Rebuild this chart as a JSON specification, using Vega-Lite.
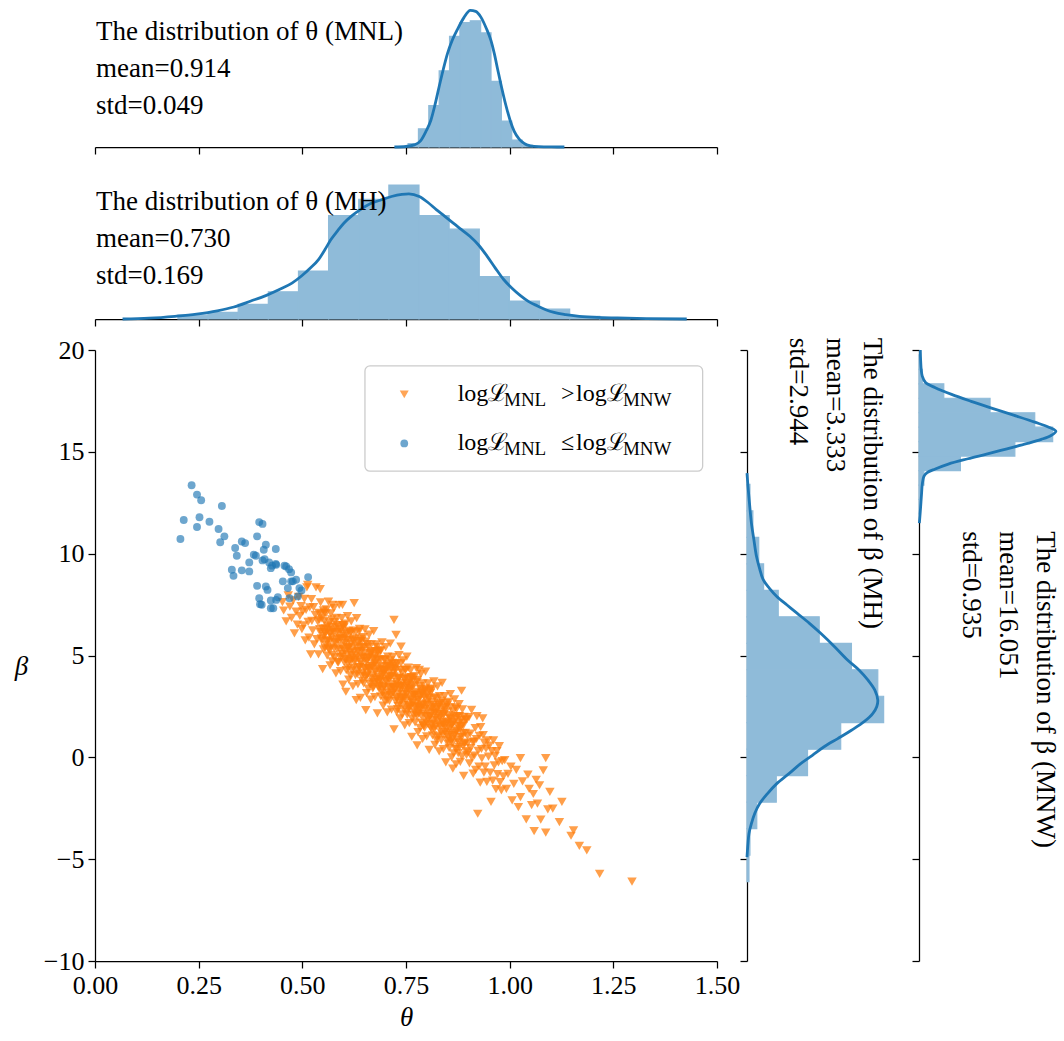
{
  "$schema": "https://vega.github.io/schema/vega-lite/v6.json",
  "background": "white",
  "padding": {"left": 13, "top": 4, "right": 2, "bottom": 2},
  "autosize": {"type": "pad"},
  "config": {
    "font": "Liberation Serif",
    "view": {"stroke": "transparent"},
    "axis": {
      "grid": false,
      "domainColor": "#000000",
      "domainWidth": 1.25,
      "tickColor": "#000000",
      "tickWidth": 1.25,
      "tickSize": 7,
      "labelFont": "Liberation Serif",
      "labelFontSize": 26,
      "labelColor": "#000000",
      "labelPadding": 4,
      "labelFlush": false,
      "labelOverlap": false,
      "titleFont": "Liberation Serif",
      "titleFontSize": 27,
      "titleFontWeight": "normal",
      "titleFontStyle": "italic",
      "titleColor": "#000000"
    },
    "rect": {"color": "#8fbbd9", "stroke": "#8fbbd9", "strokeWidth": 1.2},
    "text": {"font": "Liberation Serif", "color": "#000000"}
  },
  "datasets": {
    "theta_mnl_hist": [
      {"lo": 0.755, "hi": 0.780, "density": 0.2},
      {"lo": 0.780, "hi": 0.805, "density": 1.05},
      {"lo": 0.805, "hi": 0.830, "density": 2.4},
      {"lo": 0.830, "hi": 0.855, "density": 4.4},
      {"lo": 0.855, "hi": 0.880, "density": 6.4},
      {"lo": 0.880, "hi": 0.905, "density": 7.2},
      {"lo": 0.905, "hi": 0.930, "density": 7.3},
      {"lo": 0.930, "hi": 0.955, "density": 6.6},
      {"lo": 0.955, "hi": 0.980, "density": 3.8},
      {"lo": 0.980, "hi": 1.005, "density": 1.5},
      {"lo": 1.005, "hi": 1.030, "density": 0.4},
      {"lo": 1.030, "hi": 1.055, "density": 0.1}
    ],
    "theta_mnl_kde": [
      {"theta": 0.722, "density": 0}, {"theta": 0.75, "density": 0.03}, {"theta": 0.77, "density": 0.12},
      {"theta": 0.785, "density": 0.35}, {"theta": 0.798, "density": 0.9}, {"theta": 0.81, "density": 1.55},
      {"theta": 0.82, "density": 2.45}, {"theta": 0.83, "density": 3.5}, {"theta": 0.84, "density": 4.5},
      {"theta": 0.85, "density": 5.4}, {"theta": 0.862, "density": 6.2}, {"theta": 0.875, "density": 6.85},
      {"theta": 0.89, "density": 7.5}, {"theta": 0.905, "density": 7.91}, {"theta": 0.918, "density": 7.85},
      {"theta": 0.931, "density": 7.5}, {"theta": 0.943, "density": 6.9}, {"theta": 0.955, "density": 6.15},
      {"theta": 0.963, "density": 5.4}, {"theta": 0.971, "density": 4.5}, {"theta": 0.981, "density": 3.4},
      {"theta": 0.991, "density": 2.4}, {"theta": 1.001, "density": 1.55}, {"theta": 1.011, "density": 0.9},
      {"theta": 1.023, "density": 0.45}, {"theta": 1.035, "density": 0.2}, {"theta": 1.05, "density": 0.07},
      {"theta": 1.07, "density": 0.02}, {"theta": 1.1, "density": 0.004}, {"theta": 1.132, "density": 0}
    ],
    "theta_mh_hist": [
      {"lo": 0.2000, "hi": 0.2727, "density": 0.07},
      {"lo": 0.2727, "hi": 0.3453, "density": 0.12},
      {"lo": 0.3453, "hi": 0.4180, "density": 0.27},
      {"lo": 0.4180, "hi": 0.4907, "density": 0.50},
      {"lo": 0.4907, "hi": 0.5633, "density": 0.88},
      {"lo": 0.5633, "hi": 0.6360, "density": 1.90},
      {"lo": 0.6360, "hi": 0.7087, "density": 2.20},
      {"lo": 0.7087, "hi": 0.7813, "density": 2.46},
      {"lo": 0.7813, "hi": 0.8540, "density": 1.90},
      {"lo": 0.8540, "hi": 0.9267, "density": 1.65},
      {"lo": 0.9267, "hi": 0.9993, "density": 0.78},
      {"lo": 0.9993, "hi": 1.0720, "density": 0.33},
      {"lo": 1.0720, "hi": 1.1447, "density": 0.18},
      {"lo": 1.1447, "hi": 1.2173, "density": 0.05},
      {"lo": 1.2173, "hi": 1.2900, "density": 0.025}
    ],
    "theta_mh_kde": [
      {"theta": 0.0665, "density": 0}, {"theta": 0.13, "density": 0.015}, {"theta": 0.193, "density": 0.05},
      {"theta": 0.245, "density": 0.09}, {"theta": 0.295, "density": 0.15}, {"theta": 0.335, "density": 0.22},
      {"theta": 0.376, "density": 0.33}, {"theta": 0.412, "density": 0.43}, {"theta": 0.447, "density": 0.55},
      {"theta": 0.475, "density": 0.66}, {"theta": 0.498, "density": 0.79}, {"theta": 0.52, "density": 0.94},
      {"theta": 0.539, "density": 1.09}, {"theta": 0.555, "density": 1.28}, {"theta": 0.569, "density": 1.46},
      {"theta": 0.585, "density": 1.62}, {"theta": 0.6, "density": 1.76}, {"theta": 0.62, "density": 1.9},
      {"theta": 0.64, "density": 2.01}, {"theta": 0.665, "density": 2.12}, {"theta": 0.691, "density": 2.19},
      {"theta": 0.715, "density": 2.25}, {"theta": 0.74, "density": 2.29}, {"theta": 0.757, "density": 2.3},
      {"theta": 0.782, "density": 2.25}, {"theta": 0.803, "density": 2.14}, {"theta": 0.823, "density": 2.01},
      {"theta": 0.843, "density": 1.89}, {"theta": 0.864, "density": 1.76}, {"theta": 0.884, "density": 1.64},
      {"theta": 0.904, "density": 1.52}, {"theta": 0.925, "density": 1.36}, {"theta": 0.945, "density": 1.16},
      {"theta": 0.965, "density": 0.94}, {"theta": 0.985, "density": 0.73}, {"theta": 1.005, "density": 0.57},
      {"theta": 1.026, "density": 0.43}, {"theta": 1.046, "density": 0.32}, {"theta": 1.067, "density": 0.24},
      {"theta": 1.087, "density": 0.17}, {"theta": 1.107, "density": 0.12}, {"theta": 1.135, "density": 0.08},
      {"theta": 1.168, "density": 0.05}, {"theta": 1.21, "density": 0.03}, {"theta": 1.26, "density": 0.02},
      {"theta": 1.33, "density": 0.008}, {"theta": 1.427, "density": 0}
    ],
    "beta_mh_hist": [
      {"lo": -6.1, "hi": -4.8, "density": 0.002},
      {"lo": -4.8, "hi": -3.5, "density": 0.003},
      {"lo": -3.5, "hi": -2.2, "density": 0.010},
      {"lo": -2.2, "hi": -0.9, "density": 0.030},
      {"lo": -0.9, "hi": 0.4, "density": 0.062},
      {"lo": 0.4, "hi": 1.7, "density": 0.096},
      {"lo": 1.7, "hi": 3.0, "density": 0.140},
      {"lo": 3.0, "hi": 4.3, "density": 0.134},
      {"lo": 4.3, "hi": 5.6, "density": 0.107},
      {"lo": 5.6, "hi": 6.9, "density": 0.074},
      {"lo": 6.9, "hi": 8.2, "density": 0.032},
      {"lo": 8.2, "hi": 9.5, "density": 0.017},
      {"lo": 9.5, "hi": 10.8, "density": 0.012},
      {"lo": 10.8, "hi": 12.1, "density": 0.006},
      {"lo": 12.1, "hi": 13.4, "density": 0.003}
    ],
    "beta_mh_kde": [
      {"beta": 13.95, "density": 0}, {"beta": 13.31, "density": 0.001}, {"beta": 12.5, "density": 0.0025},
      {"beta": 11.51, "density": 0.0045}, {"beta": 10.7, "density": 0.007}, {"beta": 9.87, "density": 0.0097},
      {"beta": 9.25, "density": 0.013}, {"beta": 8.72, "density": 0.0166}, {"beta": 8.3, "density": 0.023},
      {"beta": 7.9, "density": 0.0305}, {"beta": 7.48, "density": 0.041}, {"beta": 7.08, "density": 0.0512},
      {"beta": 6.58, "density": 0.064}, {"beta": 6.09, "density": 0.0755}, {"beta": 5.42, "density": 0.09},
      {"beta": 4.78, "density": 0.103}, {"beta": 4.28, "density": 0.115}, {"beta": 3.79, "density": 0.124},
      {"beta": 3.3, "density": 0.131}, {"beta": 2.81, "density": 0.134}, {"beta": 2.5, "density": 0.133},
      {"beta": 2.16, "density": 0.129}, {"beta": 1.75, "density": 0.12}, {"beta": 1.33, "density": 0.107},
      {"beta": 0.92, "density": 0.093}, {"beta": 0.52, "density": 0.079}, {"beta": 0.1, "density": 0.067},
      {"beta": -0.31, "density": 0.055}, {"beta": -0.8, "density": 0.043}, {"beta": -1.29, "density": 0.0305},
      {"beta": -1.78, "density": 0.021}, {"beta": -2.27, "density": 0.013}, {"beta": -2.75, "density": 0.008},
      {"beta": -3.26, "density": 0.0045}, {"beta": -3.75, "density": 0.002}, {"beta": -4.24, "density": 0.001},
      {"beta": -4.9, "density": 0}
    ],
    "beta_mnw_hist": [
      {"lo": 11.95, "hi": 12.66, "density": 0.002},
      {"lo": 12.66, "hi": 13.37, "density": 0.005},
      {"lo": 13.37, "hi": 14.08, "density": 0.015},
      {"lo": 14.08, "hi": 14.79, "density": 0.127},
      {"lo": 14.79, "hi": 15.50, "density": 0.294},
      {"lo": 15.50, "hi": 16.21, "density": 0.41},
      {"lo": 16.21, "hi": 16.92, "density": 0.355},
      {"lo": 16.92, "hi": 17.63, "density": 0.218},
      {"lo": 17.63, "hi": 18.34, "density": 0.076},
      {"lo": 18.34, "hi": 19.05, "density": 0.01},
      {"lo": 19.05, "hi": 19.76, "density": 0.004}
    ],
    "beta_mnw_kde": [
      {"beta": 20.0, "density": 0.004}, {"beta": 19.5, "density": 0.005}, {"beta": 19.0, "density": 0.007},
      {"beta": 18.72, "density": 0.01}, {"beta": 18.4, "density": 0.02}, {"beta": 18.15, "density": 0.05},
      {"beta": 17.82, "density": 0.1}, {"beta": 17.48, "density": 0.16}, {"beta": 17.16, "density": 0.22},
      {"beta": 16.8, "density": 0.29}, {"beta": 16.46, "density": 0.355}, {"beta": 16.2, "density": 0.4},
      {"beta": 16.01, "density": 0.42}, {"beta": 15.8, "density": 0.405}, {"beta": 15.61, "density": 0.375},
      {"beta": 15.4, "density": 0.33}, {"beta": 15.15, "density": 0.27}, {"beta": 14.9, "density": 0.21},
      {"beta": 14.66, "density": 0.15}, {"beta": 14.4, "density": 0.09}, {"beta": 14.16, "density": 0.05},
      {"beta": 13.98, "density": 0.025}, {"beta": 13.8, "density": 0.015}, {"beta": 13.4, "density": 0.01},
      {"beta": 12.98, "density": 0.008}, {"beta": 12.3, "density": 0.005}, {"beta": 11.67, "density": 0.002},
      {"beta": 11.5, "density": 0.001}
    ],
    "samples": [
      {"theta":0.452,"beta":7.62,"best":"MNL"},{"theta":0.455,"beta":7.21,"best":"MNL"},{"theta":0.461,"beta":6.68,"best":"MNL"},{"theta":0.466,"beta":7.95,"best":"MNL"},{"theta":0.470,"beta":7.40,"best":"MNL"},{"theta":0.474,"beta":6.85,"best":"MNL"},{"theta":0.478,"beta":7.71,"best":"MNL"},{"theta":0.481,"beta":6.09,"best":"MNL"},{"theta":0.485,"beta":7.15,"best":"MNL"},{"theta":0.488,"beta":6.52,"best":"MNL"},{"theta":0.491,"beta":7.88,"best":"MNL"},{"theta":0.494,"beta":6.95,"best":"MNL"},{"theta":0.497,"beta":7.42,"best":"MNL"},{"theta":0.499,"beta":6.30,"best":"MNL"},
      {"theta":0.501,"beta":7.15,"best":"MNL"},{"theta":0.503,"beta":6.48,"best":"MNL"},{"theta":0.505,"beta":7.78,"best":"MNL"},{"theta":0.507,"beta":5.74,"best":"MNL"},{"theta":0.509,"beta":7.24,"best":"MNL"},{"theta":0.511,"beta":8.35,"best":"MNL"},{"theta":0.513,"beta":8.47,"best":"MNL"},{"theta":0.514,"beta":6.65,"best":"MNL"},{"theta":0.516,"beta":5.88,"best":"MNL"},{"theta":0.518,"beta":7.36,"best":"MNL"},{"theta":0.520,"beta":5.06,"best":"MNL"},{"theta":0.522,"beta":7.77,"best":"MNL"},{"theta":0.523,"beta":6.70,"best":"MNL"},{"theta":0.525,"beta":6.23,"best":"MNL"},{"theta":0.527,"beta":7.38,"best":"MNL"},{"theta":0.529,"beta":5.55,"best":"MNL"},{"theta":0.531,"beta":7.00,"best":"MNL"},{"theta":0.533,"beta":8.34,"best":"MNL"},{"theta":0.535,"beta":5.80,"best":"MNL"},{"theta":0.537,"beta":6.68,"best":"MNL"},{"theta":0.539,"beta":5.05,"best":"MNL"},{"theta":0.540,"beta":7.09,"best":"MNL"},{"theta":0.542,"beta":6.29,"best":"MNL"},{"theta":0.543,"beta":8.26,"best":"MNL"},{"theta":0.544,"beta":7.61,"best":"MNL"},{"theta":0.546,"beta":5.84,"best":"MNL"},{"theta":0.547,"beta":6.82,"best":"MNL"},{"theta":0.549,"beta":4.33,"best":"MNL"},
      {"theta":0.551,"beta":7.22,"best":"MNL"},{"theta":0.552,"beta":5.96,"best":"MNL"},{"theta":0.553,"beta":7.10,"best":"MNL"},{"theta":0.555,"beta":5.37,"best":"MNL"},{"theta":0.556,"beta":6.32,"best":"MNL"},{"theta":0.557,"beta":5.53,"best":"MNL"},{"theta":0.558,"beta":7.27,"best":"MNL"},{"theta":0.560,"beta":4.99,"best":"MNL"},{"theta":0.561,"beta":6.47,"best":"MNL"},{"theta":0.562,"beta":5.75,"best":"MNL"},{"theta":0.563,"beta":7.64,"best":"MNL"},{"theta":0.565,"beta":5.29,"best":"MNL"},{"theta":0.566,"beta":6.07,"best":"MNL"},{"theta":0.567,"beta":4.51,"best":"MNL"},{"theta":0.568,"beta":6.10,"best":"MNL"},{"theta":0.570,"beta":5.40,"best":"MNL"},{"theta":0.571,"beta":6.77,"best":"MNL"},{"theta":0.572,"beta":4.71,"best":"MNL"},{"theta":0.573,"beta":7.49,"best":"MNL"},{"theta":0.574,"beta":6.23,"best":"MNL"},{"theta":0.576,"beta":7.33,"best":"MNL"},{"theta":0.577,"beta":5.66,"best":"MNL"},{"theta":0.578,"beta":4.91,"best":"MNL"},{"theta":0.579,"beta":6.42,"best":"MNL"},{"theta":0.581,"beta":4.12,"best":"MNL"},{"theta":0.582,"beta":6.85,"best":"MNL"},{"theta":0.583,"beta":5.78,"best":"MNL"},{"theta":0.584,"beta":5.33,"best":"MNL"},{"theta":0.585,"beta":6.49,"best":"MNL"},{"theta":0.587,"beta":4.66,"best":"MNL"},{"theta":0.588,"beta":6.13,"best":"MNL"},{"theta":0.589,"beta":7.48,"best":"MNL"},{"theta":0.590,"beta":4.95,"best":"MNL"},{"theta":0.591,"beta":5.85,"best":"MNL"},{"theta":0.592,"beta":4.23,"best":"MNL"},{"theta":0.593,"beta":6.28,"best":"MNL"},{"theta":0.594,"beta":5.49,"best":"MNL"},{"theta":0.595,"beta":6.83,"best":"MNL"},{"theta":0.596,"beta":5.07,"best":"MNL"},{"theta":0.597,"beta":7.49,"best":"MNL"},{"theta":0.597,"beta":6.05,"best":"MNL"},{"theta":0.598,"beta":3.57,"best":"MNL"},{"theta":0.599,"beta":6.48,"best":"MNL"},{"theta":0.554,"beta":6.15,"best":"MNL"},{"theta":0.569,"beta":6.39,"best":"MNL"},
      {"theta":0.600,"beta":6.38,"best":"MNL"},{"theta":0.601,"beta":4.66,"best":"MNL"},{"theta":0.602,"beta":5.61,"best":"MNL"},{"theta":0.603,"beta":4.82,"best":"MNL"},{"theta":0.604,"beta":6.56,"best":"MNL"},{"theta":0.605,"beta":3.22,"best":"MNL"},{"theta":0.606,"beta":4.28,"best":"MNL"},{"theta":0.607,"beta":5.76,"best":"MNL"},{"theta":0.608,"beta":5.04,"best":"MNL"},{"theta":0.609,"beta":6.93,"best":"MNL"},{"theta":0.610,"beta":4.60,"best":"MNL"},{"theta":0.611,"beta":5.38,"best":"MNL"},{"theta":0.612,"beta":3.82,"best":"MNL"},{"theta":0.613,"beta":5.41,"best":"MNL"},{"theta":0.614,"beta":4.72,"best":"MNL"},{"theta":0.615,"beta":6.09,"best":"MNL"},{"theta":0.616,"beta":4.03,"best":"MNL"},{"theta":0.617,"beta":5.57,"best":"MNL"},{"theta":0.618,"beta":6.68,"best":"MNL"},{"theta":0.619,"beta":5.02,"best":"MNL"},{"theta":0.620,"beta":4.26,"best":"MNL"},{"theta":0.621,"beta":5.78,"best":"MNL"},{"theta":0.622,"beta":3.49,"best":"MNL"},{"theta":0.623,"beta":6.22,"best":"MNL"},{"theta":0.624,"beta":5.15,"best":"MNL"},{"theta":0.625,"beta":7.57,"best":"MNL"},{"theta":0.626,"beta":4.68,"best":"MNL"},{"theta":0.627,"beta":5.84,"best":"MNL"},{"theta":0.628,"beta":4.03,"best":"MNL"},{"theta":0.629,"beta":5.49,"best":"MNL"},{"theta":0.630,"beta":2.81,"best":"MNL"},{"theta":0.631,"beta":6.83,"best":"MNL"},{"theta":0.632,"beta":4.31,"best":"MNL"},{"theta":0.633,"beta":5.20,"best":"MNL"},{"theta":0.634,"beta":3.59,"best":"MNL"},{"theta":0.635,"beta":5.63,"best":"MNL"},{"theta":0.636,"beta":4.85,"best":"MNL"},{"theta":0.637,"beta":6.18,"best":"MNL"},{"theta":0.638,"beta":4.43,"best":"MNL"},{"theta":0.639,"beta":5.40,"best":"MNL"},{"theta":0.640,"beta":2.92,"best":"MNL"},{"theta":0.641,"beta":5.83,"best":"MNL"},{"theta":0.642,"beta":4.57,"best":"MNL"},{"theta":0.643,"beta":5.72,"best":"MNL"},{"theta":0.644,"beta":4.00,"best":"MNL"},{"theta":0.645,"beta":4.95,"best":"MNL"},{"theta":0.646,"beta":4.16,"best":"MNL"},{"theta":0.647,"beta":5.90,"best":"MNL"},{"theta":0.648,"beta":3.63,"best":"MNL"},{"theta":0.649,"beta":5.12,"best":"MNL"},{"theta":0.603,"beta":5.96,"best":"MNL"},{"theta":0.612,"beta":6.21,"best":"MNL"},{"theta":0.621,"beta":4.87,"best":"MNL"},{"theta":0.638,"beta":6.31,"best":"MNL"},{"theta":0.645,"beta":5.40,"best":"MNL"},
      {"theta":0.650,"beta":4.39,"best":"MNL"},{"theta":0.651,"beta":6.28,"best":"MNL"},{"theta":0.652,"beta":3.95,"best":"MNL"},{"theta":0.653,"beta":2.32,"best":"MNL"},{"theta":0.654,"beta":4.72,"best":"MNL"},{"theta":0.655,"beta":3.15,"best":"MNL"},{"theta":0.656,"beta":4.75,"best":"MNL"},{"theta":0.657,"beta":4.06,"best":"MNL"},{"theta":0.658,"beta":5.43,"best":"MNL"},{"theta":0.659,"beta":3.37,"best":"MNL"},{"theta":0.660,"beta":4.91,"best":"MNL"},{"theta":0.661,"beta":6.02,"best":"MNL"},{"theta":0.662,"beta":4.36,"best":"MNL"},{"theta":0.663,"beta":3.60,"best":"MNL"},{"theta":0.664,"beta":5.12,"best":"MNL"},{"theta":0.665,"beta":2.83,"best":"MNL"},{"theta":0.666,"beta":5.55,"best":"MNL"},{"theta":0.667,"beta":4.49,"best":"MNL"},{"theta":0.668,"beta":4.03,"best":"MNL"},{"theta":0.669,"beta":5.20,"best":"MNL"},{"theta":0.670,"beta":3.38,"best":"MNL"},{"theta":0.671,"beta":4.85,"best":"MNL"},{"theta":0.672,"beta":6.20,"best":"MNL"},{"theta":0.673,"beta":3.68,"best":"MNL"},{"theta":0.674,"beta":4.57,"best":"MNL"},{"theta":0.675,"beta":2.96,"best":"MNL"},{"theta":0.676,"beta":5.00,"best":"MNL"},{"theta":0.677,"beta":4.21,"best":"MNL"},{"theta":0.678,"beta":5.55,"best":"MNL"},{"theta":0.679,"beta":3.79,"best":"MNL"},{"theta":0.680,"beta":4.77,"best":"MNL"},{"theta":0.681,"beta":2.16,"best":"MNL"},{"theta":0.682,"beta":5.20,"best":"MNL"},{"theta":0.683,"beta":3.94,"best":"MNL"},{"theta":0.684,"beta":5.09,"best":"MNL"},{"theta":0.685,"beta":3.37,"best":"MNL"},{"theta":0.686,"beta":4.32,"best":"MNL"},{"theta":0.687,"beta":3.53,"best":"MNL"},{"theta":0.688,"beta":5.27,"best":"MNL"},{"theta":0.689,"beta":3.00,"best":"MNL"},{"theta":0.690,"beta":4.48,"best":"MNL"},{"theta":0.691,"beta":3.76,"best":"MNL"},{"theta":0.692,"beta":5.65,"best":"MNL"},{"theta":0.693,"beta":3.32,"best":"MNL"},{"theta":0.694,"beta":4.10,"best":"MNL"},{"theta":0.695,"beta":2.54,"best":"MNL"},{"theta":0.696,"beta":4.13,"best":"MNL"},{"theta":0.697,"beta":3.45,"best":"MNL"},{"theta":0.698,"beta":4.81,"best":"MNL"},{"theta":0.699,"beta":2.76,"best":"MNL"},{"theta":0.6525,"beta":5.68,"best":"MNL"},{"theta":0.6575,"beta":4.40,"best":"MNL"},{"theta":0.6635,"beta":5.06,"best":"MNL"},{"theta":0.6685,"beta":3.68,"best":"MNL"},{"theta":0.6745,"beta":4.64,"best":"MNL"},{"theta":0.6795,"beta":5.41,"best":"MNL"},{"theta":0.6845,"beta":3.69,"best":"MNL"},{"theta":0.6895,"beta":4.81,"best":"MNL"},{"theta":0.6935,"beta":4.30,"best":"MNL"},{"theta":0.6975,"beta":3.04,"best":"MNL"},
      {"theta":0.700,"beta":4.29,"best":"MNL"},{"theta":0.701,"beta":5.41,"best":"MNL"},{"theta":0.702,"beta":3.74,"best":"MNL"},{"theta":0.703,"beta":2.99,"best":"MNL"},{"theta":0.704,"beta":4.50,"best":"MNL"},{"theta":0.705,"beta":2.21,"best":"MNL"},{"theta":0.706,"beta":4.94,"best":"MNL"},{"theta":0.707,"beta":3.87,"best":"MNL"},{"theta":0.708,"beta":3.42,"best":"MNL"},{"theta":0.709,"beta":4.58,"best":"MNL"},{"theta":0.710,"beta":2.77,"best":"MNL"},{"theta":0.711,"beta":4.23,"best":"MNL"},{"theta":0.712,"beta":5.59,"best":"MNL"},{"theta":0.713,"beta":3.06,"best":"MNL"},{"theta":0.714,"beta":3.96,"best":"MNL"},{"theta":0.715,"beta":2.34,"best":"MNL"},{"theta":0.716,"beta":4.38,"best":"MNL"},{"theta":0.717,"beta":3.60,"best":"MNL"},{"theta":0.718,"beta":4.93,"best":"MNL"},{"theta":0.719,"beta":3.18,"best":"MNL"},{"theta":0.720,"beta":4.15,"best":"MNL"},{"theta":0.721,"beta":6.75,"best":"MNL"},{"theta":0.721,"beta":1.37,"best":"MNL"},{"theta":0.722,"beta":4.58,"best":"MNL"},{"theta":0.723,"beta":3.33,"best":"MNL"},{"theta":0.724,"beta":4.47,"best":"MNL"},{"theta":0.725,"beta":2.76,"best":"MNL"},{"theta":0.726,"beta":6.01,"best":"MNL"},{"theta":0.727,"beta":3.69,"best":"MNL"},{"theta":0.728,"beta":2.90,"best":"MNL"},{"theta":0.729,"beta":4.63,"best":"MNL"},{"theta":0.730,"beta":2.37,"best":"MNL"},{"theta":0.731,"beta":3.85,"best":"MNL"},{"theta":0.732,"beta":3.13,"best":"MNL"},{"theta":0.733,"beta":5.02,"best":"MNL"},{"theta":0.734,"beta":2.69,"best":"MNL"},{"theta":0.735,"beta":3.47,"best":"MNL"},{"theta":0.736,"beta":1.91,"best":"MNL"},{"theta":0.737,"beta":3.50,"best":"MNL"},{"theta":0.738,"beta":5.44,"best":"MNL"},{"theta":0.739,"beta":2.80,"best":"MNL"},{"theta":0.740,"beta":4.16,"best":"MNL"},{"theta":0.741,"beta":2.11,"best":"MNL"},{"theta":0.742,"beta":3.64,"best":"MNL"},{"theta":0.743,"beta":4.76,"best":"MNL"},{"theta":0.744,"beta":3.09,"best":"MNL"},{"theta":0.745,"beta":2.34,"best":"MNL"},{"theta":0.746,"beta":3.85,"best":"MNL"},{"theta":0.747,"beta":1.57,"best":"MNL"},{"theta":0.748,"beta":4.29,"best":"MNL"},{"theta":0.749,"beta":3.23,"best":"MNL"},{"theta":0.7025,"beta":4.46,"best":"MNL"},{"theta":0.7075,"beta":3.18,"best":"MNL"},{"theta":0.7125,"beta":4.76,"best":"MNL"},{"theta":0.7175,"beta":3.43,"best":"MNL"},{"theta":0.7225,"beta":4.35,"best":"MNL"},{"theta":0.7275,"beta":2.23,"best":"MNL"},{"theta":0.7325,"beta":3.90,"best":"MNL"},{"theta":0.7375,"beta":4.62,"best":"MNL"},{"theta":0.7425,"beta":2.90,"best":"MNL"},{"theta":0.7475,"beta":3.42,"best":"MNL"},{"theta":0.7085,"beta":3.82,"best":"MNL"},
      {"theta":0.750,"beta":2.77,"best":"MNL"},{"theta":0.751,"beta":3.93,"best":"MNL"},{"theta":0.752,"beta":4.95,"best":"MNL"},{"theta":0.753,"beta":2.10,"best":"MNL"},{"theta":0.754,"beta":3.57,"best":"MNL"},{"theta":0.755,"beta":4.40,"best":"MNL"},{"theta":0.756,"beta":2.40,"best":"MNL"},{"theta":0.757,"beta":3.29,"best":"MNL"},{"theta":0.758,"beta":1.68,"best":"MNL"},{"theta":0.759,"beta":3.72,"best":"MNL"},{"theta":0.760,"beta":2.94,"best":"MNL"},{"theta":0.761,"beta":4.27,"best":"MNL"},{"theta":0.762,"beta":2.51,"best":"MNL"},{"theta":0.763,"beta":3.49,"best":"MNL"},{"theta":0.764,"beta":1.01,"best":"MNL"},{"theta":0.765,"beta":3.92,"best":"MNL"},{"theta":0.766,"beta":2.66,"best":"MNL"},{"theta":0.767,"beta":3.81,"best":"MNL"},{"theta":0.768,"beta":2.09,"best":"MNL"},{"theta":0.769,"beta":3.04,"best":"MNL"},{"theta":0.770,"beta":2.25,"best":"MNL"},{"theta":0.771,"beta":3.99,"best":"MNL"},{"theta":0.772,"beta":1.72,"best":"MNL"},{"theta":0.773,"beta":3.21,"best":"MNL"},{"theta":0.774,"beta":2.48,"best":"MNL"},{"theta":0.775,"beta":4.38,"best":"MNL"},{"theta":0.776,"beta":2.04,"best":"MNL"},{"theta":0.777,"beta":0.59,"best":"MNL"},{"theta":0.778,"beta":2.81,"best":"MNL"},{"theta":0.779,"beta":1.24,"best":"MNL"},{"theta":0.780,"beta":2.84,"best":"MNL"},{"theta":0.781,"beta":2.15,"best":"MNL"},{"theta":0.782,"beta":4.29,"best":"MNL"},{"theta":0.783,"beta":3.50,"best":"MNL"},{"theta":0.784,"beta":1.45,"best":"MNL"},{"theta":0.785,"beta":2.98,"best":"MNL"},{"theta":0.786,"beta":4.10,"best":"MNL"},{"theta":0.787,"beta":2.43,"best":"MNL"},{"theta":0.788,"beta":1.68,"best":"MNL"},{"theta":0.789,"beta":3.19,"best":"MNL"},{"theta":0.790,"beta":0.90,"best":"MNL"},{"theta":0.791,"beta":3.63,"best":"MNL"},{"theta":0.792,"beta":2.56,"best":"MNL"},{"theta":0.793,"beta":2.11,"best":"MNL"},{"theta":0.794,"beta":3.27,"best":"MNL"},{"theta":0.795,"beta":1.46,"best":"MNL"},{"theta":0.796,"beta":2.92,"best":"MNL"},{"theta":0.797,"beta":4.21,"best":"MNL"},{"theta":0.798,"beta":1.75,"best":"MNL"},{"theta":0.799,"beta":2.65,"best":"MNL"},{"theta":0.7525,"beta":3.64,"best":"MNL"},{"theta":0.7575,"beta":2.46,"best":"MNL"},{"theta":0.7625,"beta":3.94,"best":"MNL"},{"theta":0.7675,"beta":2.71,"best":"MNL"},{"theta":0.7725,"beta":3.13,"best":"MNL"},{"theta":0.7775,"beta":3.81,"best":"MNL"},{"theta":0.7825,"beta":2.33,"best":"MNL"},{"theta":0.7875,"beta":3.15,"best":"MNL"},{"theta":0.7925,"beta":1.53,"best":"MNL"},{"theta":0.7975,"beta":3.30,"best":"MNL"},
      {"theta":0.800,"beta":1.03,"best":"MNL"},{"theta":0.801,"beta":3.08,"best":"MNL"},{"theta":0.802,"beta":2.29,"best":"MNL"},{"theta":0.803,"beta":3.63,"best":"MNL"},{"theta":0.804,"beta":1.87,"best":"MNL"},{"theta":0.805,"beta":2.84,"best":"MNL"},{"theta":0.806,"beta":0.37,"best":"MNL"},{"theta":0.807,"beta":3.27,"best":"MNL"},{"theta":0.808,"beta":2.02,"best":"MNL"},{"theta":0.809,"beta":3.16,"best":"MNL"},{"theta":0.810,"beta":1.45,"best":"MNL"},{"theta":0.811,"beta":2.39,"best":"MNL"},{"theta":0.812,"beta":1.61,"best":"MNL"},{"theta":0.813,"beta":3.34,"best":"MNL"},{"theta":0.814,"beta":1.08,"best":"MNL"},{"theta":0.815,"beta":2.56,"best":"MNL"},{"theta":0.816,"beta":1.83,"best":"MNL"},{"theta":0.817,"beta":3.73,"best":"MNL"},{"theta":0.818,"beta":1.39,"best":"MNL"},{"theta":0.819,"beta":2.18,"best":"MNL"},{"theta":0.820,"beta":0.61,"best":"MNL"},{"theta":0.821,"beta":2.21,"best":"MNL"},{"theta":0.822,"beta":1.52,"best":"MNL"},{"theta":0.823,"beta":2.89,"best":"MNL"},{"theta":0.824,"beta":0.83,"best":"MNL"},{"theta":0.825,"beta":2.37,"best":"MNL"},{"theta":0.826,"beta":3.48,"best":"MNL"},{"theta":0.827,"beta":1.81,"best":"MNL"},{"theta":0.828,"beta":1.06,"best":"MNL"},{"theta":0.829,"beta":2.57,"best":"MNL"},{"theta":0.830,"beta":0.29,"best":"MNL"},{"theta":0.831,"beta":3.01,"best":"MNL"},{"theta":0.832,"beta":1.95,"best":"MNL"},{"theta":0.833,"beta":1.49,"best":"MNL"},{"theta":0.834,"beta":2.66,"best":"MNL"},{"theta":0.835,"beta":0.84,"best":"MNL"},{"theta":0.836,"beta":2.31,"best":"MNL"},{"theta":0.837,"beta":3.66,"best":"MNL"},{"theta":0.838,"beta":1.13,"best":"MNL"},{"theta":0.839,"beta":2.03,"best":"MNL"},{"theta":0.840,"beta":0.41,"best":"MNL"},{"theta":0.841,"beta":2.46,"best":"MNL"},{"theta":0.842,"beta":1.67,"best":"MNL"},{"theta":0.843,"beta":3.01,"best":"MNL"},{"theta":0.844,"beta":1.25,"best":"MNL"},{"theta":0.845,"beta":2.23,"best":"MNL"},{"theta":0.846,"beta":-0.25,"best":"MNL"},{"theta":0.847,"beta":2.66,"best":"MNL"},{"theta":0.848,"beta":1.40,"best":"MNL"},{"theta":0.849,"beta":2.55,"best":"MNL"},{"theta":0.8125,"beta":2.72,"best":"MNL"},{"theta":0.8375,"beta":1.73,"best":"MNL"},
      {"theta":0.850,"beta":0.83,"best":"MNL"},{"theta":0.851,"beta":1.77,"best":"MNL"},{"theta":0.852,"beta":0.99,"best":"MNL"},{"theta":0.853,"beta":2.72,"best":"MNL"},{"theta":0.854,"beta":0.46,"best":"MNL"},{"theta":0.855,"beta":1.94,"best":"MNL"},{"theta":0.856,"beta":1.22,"best":"MNL"},{"theta":0.857,"beta":3.11,"best":"MNL"},{"theta":0.858,"beta":0.78,"best":"MNL"},{"theta":0.859,"beta":1.56,"best":"MNL"},{"theta":0.860,"beta":0.00,"best":"MNL"},{"theta":0.861,"beta":1.59,"best":"MNL"},{"theta":0.862,"beta":0.91,"best":"MNL"},{"theta":0.863,"beta":-0.55,"best":"MNL"},{"theta":0.864,"beta":2.26,"best":"MNL"},{"theta":0.865,"beta":0.20,"best":"MNL"},{"theta":0.866,"beta":1.73,"best":"MNL"},{"theta":0.867,"beta":2.85,"best":"MNL"},{"theta":0.868,"beta":1.18,"best":"MNL"},{"theta":0.869,"beta":0.43,"best":"MNL"},{"theta":0.870,"beta":1.94,"best":"MNL"},{"theta":0.871,"beta":-0.34,"best":"MNL"},{"theta":0.872,"beta":2.38,"best":"MNL"},{"theta":0.873,"beta":1.32,"best":"MNL"},{"theta":0.874,"beta":0.86,"best":"MNL"},{"theta":0.875,"beta":2.03,"best":"MNL"},{"theta":0.876,"beta":0.21,"best":"MNL"},{"theta":0.877,"beta":1.67,"best":"MNL"},{"theta":0.878,"beta":2.61,"best":"MNL"},{"theta":0.879,"beta":0.50,"best":"MNL"},{"theta":0.880,"beta":1.40,"best":"MNL"},{"theta":0.881,"beta":-0.22,"best":"MNL"},{"theta":0.882,"beta":1.83,"best":"MNL"},{"theta":0.884,"beta":3.27,"best":"MNL"},{"theta":0.885,"beta":1.01,"best":"MNL"},{"theta":0.886,"beta":2.35,"best":"MNL"},{"theta":0.887,"beta":0.59,"best":"MNL"},{"theta":0.888,"beta":1.56,"best":"MNL"},{"theta":0.889,"beta":-0.91,"best":"MNL"},{"theta":0.890,"beta":1.99,"best":"MNL"},{"theta":0.892,"beta":0.72,"best":"MNL"},{"theta":0.894,"beta":1.85,"best":"MNL"},{"theta":0.896,"beta":0.12,"best":"MNL"},{"theta":0.898,"beta":1.05,"best":"MNL"},{"theta":0.8575,"beta":1.88,"best":"MNL"},
      {"theta":0.900,"beta":0.25,"best":"MNL"},{"theta":0.902,"beta":1.97,"best":"MNL"},{"theta":0.903,"beta":-0.30,"best":"MNL"},{"theta":0.905,"beta":1.17,"best":"MNL"},{"theta":0.906,"beta":0.45,"best":"MNL"},{"theta":0.908,"beta":2.33,"best":"MNL"},{"theta":0.909,"beta":-0.01,"best":"MNL"},{"theta":0.911,"beta":0.76,"best":"MNL"},{"theta":0.912,"beta":-0.80,"best":"MNL"},{"theta":0.914,"beta":0.77,"best":"MNL"},{"theta":0.915,"beta":0.09,"best":"MNL"},{"theta":0.917,"beta":1.44,"best":"MNL"},{"theta":0.918,"beta":-0.62,"best":"MNL"},{"theta":0.920,"beta":0.90,"best":"MNL"},{"theta":0.921,"beta":2.02,"best":"MNL"},{"theta":0.923,"beta":-2.77,"best":"MNL"},{"theta":0.924,"beta":0.32,"best":"MNL"},{"theta":0.926,"beta":-0.45,"best":"MNL"},{"theta":0.927,"beta":1.06,"best":"MNL"},{"theta":0.929,"beta":-1.24,"best":"MNL"},{"theta":0.930,"beta":1.49,"best":"MNL"},{"theta":0.932,"beta":0.41,"best":"MNL"},{"theta":0.933,"beta":-0.05,"best":"MNL"},{"theta":0.935,"beta":1.91,"best":"MNL"},{"theta":0.936,"beta":1.09,"best":"MNL"},{"theta":0.938,"beta":-0.75,"best":"MNL"},{"theta":0.939,"beta":0.72,"best":"MNL"},{"theta":0.941,"beta":-0.45,"best":"MNL"},{"theta":0.943,"beta":0.43,"best":"MNL"},{"theta":0.945,"beta":-1.20,"best":"MNL"},{"theta":0.947,"beta":0.83,"best":"MNL"},{"theta":0.949,"beta":0.03,"best":"MNL"},
      {"theta":0.951,"beta":0.58,"best":"MNL"},{"theta":0.953,"beta":-0.75,"best":"MNL"},{"theta":0.955,"beta":-2.19,"best":"MNL"},{"theta":0.957,"beta":0.30,"best":"MNL"},{"theta":0.959,"beta":-1.14,"best":"MNL"},{"theta":0.961,"beta":0.83,"best":"MNL"},{"theta":0.963,"beta":-0.40,"best":"MNL"},{"theta":0.965,"beta":0.07,"best":"MNL"},{"theta":0.967,"beta":-1.56,"best":"MNL"},{"theta":0.969,"beta":0.31,"best":"MNL"},{"theta":0.971,"beta":-0.82,"best":"MNL"},{"theta":0.973,"beta":-0.25,"best":"MNL"},{"theta":0.975,"beta":0.55,"best":"MNL"},{"theta":0.977,"beta":-1.22,"best":"MNL"},{"theta":0.980,"beta":-1.62,"best":"MNL"},{"theta":0.982,"beta":-0.19,"best":"MNL"},{"theta":0.985,"beta":-0.94,"best":"MNL"},{"theta":0.988,"beta":-0.14,"best":"MNL"},{"theta":0.992,"beta":-1.55,"best":"MNL"},{"theta":0.996,"beta":-0.81,"best":"MNL"},
      {"theta":1.003,"beta":-0.45,"best":"MNL"},{"theta":1.006,"beta":-2.11,"best":"MNL"},{"theta":1.010,"beta":-1.30,"best":"MNL"},{"theta":1.016,"beta":-0.62,"best":"MNL"},{"theta":1.021,"beta":-2.45,"best":"MNL"},{"theta":1.026,"beta":-0.04,"best":"MNL"},{"theta":1.026,"beta":-1.95,"best":"MNL"},{"theta":1.031,"beta":-1.18,"best":"MNL"},{"theta":1.040,"beta":-3.05,"best":"MNL"},{"theta":1.044,"beta":-0.85,"best":"MNL"},{"theta":1.047,"beta":-1.55,"best":"MNL"},{"theta":1.053,"beta":-2.35,"best":"MNL"},{"theta":1.057,"beta":-1.80,"best":"MNL"},{"theta":1.059,"beta":-3.62,"best":"MNL"},{"theta":1.064,"beta":-1.10,"best":"MNL"},{"theta":1.067,"beta":-2.27,"best":"MNL"},{"theta":1.072,"beta":-1.37,"best":"MNL"},{"theta":1.075,"beta":-3.06,"best":"MNL"},{"theta":1.081,"beta":-0.64,"best":"MNL"},{"theta":1.087,"beta":-0.04,"best":"MNL"},{"theta":1.087,"beta":-3.70,"best":"MNL"},{"theta":1.092,"beta":-2.55,"best":"MNL"},{"theta":1.097,"beta":-1.70,"best":"MNL"},{"theta":1.104,"beta":-2.52,"best":"MNL"},{"theta":1.120,"beta":-3.18,"best":"MNL"},{"theta":1.126,"beta":-2.19,"best":"MNL"},{"theta":1.148,"beta":-3.85,"best":"MNL"},{"theta":1.154,"beta":-3.59,"best":"MNL"},{"theta":1.168,"beta":-4.35,"best":"MNL"},{"theta":1.186,"beta":-4.57,"best":"MNL"},{"theta":1.217,"beta":-5.72,"best":"MNL"},{"theta":1.295,"beta":-6.10,"best":"MNL"},
      {"theta":0.541,"beta":6.75,"best":"MNL"},{"theta":0.543,"beta":6.15,"best":"MNL"},{"theta":0.545,"beta":7.05,"best":"MNL"},{"theta":0.547,"beta":5.73,"best":"MNL"},{"theta":0.549,"beta":6.33,"best":"MNL"},{"theta":0.551,"beta":5.30,"best":"MNL"},{"theta":0.553,"beta":6.69,"best":"MNL"},{"theta":0.555,"beta":6.06,"best":"MNL"},{"theta":0.557,"beta":7.07,"best":"MNL"},{"theta":0.559,"beta":5.71,"best":"MNL"},{"theta":0.561,"beta":6.27,"best":"MNL"},{"theta":0.563,"beta":5.33,"best":"MNL"},{"theta":0.565,"beta":6.63,"best":"MNL"},{"theta":0.567,"beta":5.70,"best":"MNL"},{"theta":0.569,"beta":7.07,"best":"MNL"},{"theta":0.571,"beta":5.89,"best":"MNL"},{"theta":0.573,"beta":5.03,"best":"MNL"},{"theta":0.575,"beta":6.15,"best":"MNL"},{"theta":0.577,"beta":5.35,"best":"MNL"},{"theta":0.579,"beta":6.64,"best":"MNL"},{"theta":0.581,"beta":5.62,"best":"MNL"},{"theta":0.583,"beta":6.15,"best":"MNL"},{"theta":0.585,"beta":4.67,"best":"MNL"},{"theta":0.587,"beta":5.81,"best":"MNL"},{"theta":0.589,"beta":6.32,"best":"MNL"},{"theta":0.591,"beta":5.27,"best":"MNL"},{"theta":0.593,"beta":5.82,"best":"MNL"},{"theta":0.595,"beta":4.93,"best":"MNL"},{"theta":0.597,"beta":6.49,"best":"MNL"},{"theta":0.599,"beta":5.31,"best":"MNL"},
      {"theta":0.601,"beta":5.83,"best":"MNL"},{"theta":0.603,"beta":5.22,"best":"MNL"},{"theta":0.605,"beta":6.12,"best":"MNL"},{"theta":0.607,"beta":4.80,"best":"MNL"},{"theta":0.609,"beta":5.40,"best":"MNL"},{"theta":0.611,"beta":4.37,"best":"MNL"},{"theta":0.613,"beta":5.77,"best":"MNL"},{"theta":0.615,"beta":5.14,"best":"MNL"},{"theta":0.617,"beta":6.15,"best":"MNL"},{"theta":0.619,"beta":4.79,"best":"MNL"},{"theta":0.621,"beta":5.35,"best":"MNL"},{"theta":0.623,"beta":4.41,"best":"MNL"},{"theta":0.625,"beta":5.71,"best":"MNL"},{"theta":0.627,"beta":4.78,"best":"MNL"},{"theta":0.629,"beta":6.14,"best":"MNL"},{"theta":0.631,"beta":4.96,"best":"MNL"},{"theta":0.633,"beta":4.10,"best":"MNL"},{"theta":0.635,"beta":5.22,"best":"MNL"},{"theta":0.637,"beta":4.42,"best":"MNL"},{"theta":0.639,"beta":5.72,"best":"MNL"},{"theta":0.641,"beta":4.70,"best":"MNL"},{"theta":0.643,"beta":5.23,"best":"MNL"},{"theta":0.645,"beta":3.75,"best":"MNL"},{"theta":0.647,"beta":4.89,"best":"MNL"},{"theta":0.649,"beta":5.40,"best":"MNL"},{"theta":0.651,"beta":4.35,"best":"MNL"},{"theta":0.653,"beta":4.89,"best":"MNL"},{"theta":0.655,"beta":4.00,"best":"MNL"},{"theta":0.657,"beta":5.56,"best":"MNL"},{"theta":0.659,"beta":4.38,"best":"MNL"},
      {"theta":0.661,"beta":4.90,"best":"MNL"},{"theta":0.663,"beta":4.30,"best":"MNL"},{"theta":0.665,"beta":5.20,"best":"MNL"},{"theta":0.667,"beta":3.88,"best":"MNL"},{"theta":0.669,"beta":4.48,"best":"MNL"},{"theta":0.671,"beta":3.45,"best":"MNL"},{"theta":0.673,"beta":4.85,"best":"MNL"},{"theta":0.675,"beta":4.22,"best":"MNL"},{"theta":0.677,"beta":5.22,"best":"MNL"},{"theta":0.679,"beta":3.86,"best":"MNL"},{"theta":0.681,"beta":4.42,"best":"MNL"},{"theta":0.683,"beta":3.48,"best":"MNL"},{"theta":0.685,"beta":4.78,"best":"MNL"},{"theta":0.687,"beta":3.85,"best":"MNL"},{"theta":0.689,"beta":5.22,"best":"MNL"},{"theta":0.691,"beta":4.04,"best":"MNL"},{"theta":0.693,"beta":3.18,"best":"MNL"},{"theta":0.695,"beta":4.30,"best":"MNL"},{"theta":0.697,"beta":3.50,"best":"MNL"},{"theta":0.699,"beta":4.80,"best":"MNL"},{"theta":0.701,"beta":3.78,"best":"MNL"},{"theta":0.703,"beta":4.30,"best":"MNL"},{"theta":0.705,"beta":2.82,"best":"MNL"},{"theta":0.707,"beta":3.96,"best":"MNL"},{"theta":0.709,"beta":4.47,"best":"MNL"},{"theta":0.711,"beta":3.42,"best":"MNL"},{"theta":0.713,"beta":3.97,"best":"MNL"},{"theta":0.715,"beta":3.08,"best":"MNL"},{"theta":0.717,"beta":4.64,"best":"MNL"},{"theta":0.719,"beta":3.46,"best":"MNL"},
      {"theta":0.721,"beta":3.98,"best":"MNL"},{"theta":0.723,"beta":3.38,"best":"MNL"},{"theta":0.725,"beta":4.28,"best":"MNL"},{"theta":0.727,"beta":2.96,"best":"MNL"},{"theta":0.729,"beta":3.55,"best":"MNL"},{"theta":0.731,"beta":2.52,"best":"MNL"},{"theta":0.733,"beta":3.92,"best":"MNL"},{"theta":0.735,"beta":3.29,"best":"MNL"},{"theta":0.737,"beta":4.30,"best":"MNL"},{"theta":0.739,"beta":2.94,"best":"MNL"},{"theta":0.741,"beta":3.50,"best":"MNL"},{"theta":0.743,"beta":2.56,"best":"MNL"},{"theta":0.745,"beta":3.86,"best":"MNL"},{"theta":0.747,"beta":2.93,"best":"MNL"},{"theta":0.749,"beta":4.30,"best":"MNL"},{"theta":0.751,"beta":3.12,"best":"MNL"},{"theta":0.753,"beta":2.25,"best":"MNL"},{"theta":0.755,"beta":3.37,"best":"MNL"},{"theta":0.757,"beta":2.57,"best":"MNL"},{"theta":0.759,"beta":3.87,"best":"MNL"},{"theta":0.761,"beta":2.85,"best":"MNL"},{"theta":0.763,"beta":3.38,"best":"MNL"},{"theta":0.765,"beta":1.90,"best":"MNL"},{"theta":0.767,"beta":3.04,"best":"MNL"},{"theta":0.769,"beta":3.55,"best":"MNL"},{"theta":0.771,"beta":2.50,"best":"MNL"},{"theta":0.773,"beta":3.05,"best":"MNL"},{"theta":0.775,"beta":2.16,"best":"MNL"},{"theta":0.777,"beta":3.71,"best":"MNL"},{"theta":0.779,"beta":2.53,"best":"MNL"},
      {"theta":0.781,"beta":3.05,"best":"MNL"},{"theta":0.783,"beta":2.45,"best":"MNL"},{"theta":0.785,"beta":3.35,"best":"MNL"},{"theta":0.787,"beta":2.03,"best":"MNL"},{"theta":0.789,"beta":2.63,"best":"MNL"},{"theta":0.791,"beta":1.60,"best":"MNL"},{"theta":0.793,"beta":3.00,"best":"MNL"},{"theta":0.795,"beta":2.37,"best":"MNL"},{"theta":0.797,"beta":3.38,"best":"MNL"},{"theta":0.799,"beta":2.02,"best":"MNL"},{"theta":0.801,"beta":2.58,"best":"MNL"},{"theta":0.803,"beta":1.63,"best":"MNL"},{"theta":0.805,"beta":2.93,"best":"MNL"},{"theta":0.807,"beta":2.00,"best":"MNL"},{"theta":0.809,"beta":3.37,"best":"MNL"},{"theta":0.811,"beta":2.19,"best":"MNL"},{"theta":0.813,"beta":1.33,"best":"MNL"},{"theta":0.815,"beta":2.45,"best":"MNL"},{"theta":0.817,"beta":1.65,"best":"MNL"},{"theta":0.819,"beta":2.95,"best":"MNL"},{"theta":0.821,"beta":1.93,"best":"MNL"},{"theta":0.823,"beta":2.46,"best":"MNL"},{"theta":0.825,"beta":0.98,"best":"MNL"},{"theta":0.827,"beta":2.11,"best":"MNL"},{"theta":0.829,"beta":2.62,"best":"MNL"},{"theta":0.831,"beta":1.57,"best":"MNL"},{"theta":0.833,"beta":2.12,"best":"MNL"},{"theta":0.835,"beta":1.23,"best":"MNL"},{"theta":0.837,"beta":2.79,"best":"MNL"},{"theta":0.839,"beta":1.61,"best":"MNL"},
      {"theta":0.841,"beta":2.13,"best":"MNL"},{"theta":0.843,"beta":1.53,"best":"MNL"},{"theta":0.845,"beta":2.43,"best":"MNL"},{"theta":0.847,"beta":1.11,"best":"MNL"},{"theta":0.849,"beta":1.71,"best":"MNL"},{"theta":0.851,"beta":0.68,"best":"MNL"},{"theta":0.853,"beta":2.07,"best":"MNL"},{"theta":0.855,"beta":1.44,"best":"MNL"},{"theta":0.857,"beta":2.45,"best":"MNL"},{"theta":0.859,"beta":1.09,"best":"MNL"},{"theta":0.861,"beta":1.65,"best":"MNL"},{"theta":0.863,"beta":0.71,"best":"MNL"},{"theta":0.865,"beta":2.01,"best":"MNL"},{"theta":0.867,"beta":1.08,"best":"MNL"},{"theta":0.869,"beta":2.45,"best":"MNL"},{"theta":0.871,"beta":1.27,"best":"MNL"},{"theta":0.873,"beta":0.41,"best":"MNL"},{"theta":0.875,"beta":1.53,"best":"MNL"},{"theta":0.877,"beta":0.73,"best":"MNL"},{"theta":0.879,"beta":2.02,"best":"MNL"},{"theta":0.881,"beta":1.00,"best":"MNL"},{"theta":0.883,"beta":1.53,"best":"MNL"},{"theta":0.885,"beta":0.05,"best":"MNL"},{"theta":0.887,"beta":1.19,"best":"MNL"},{"theta":0.889,"beta":1.70,"best":"MNL"},{"theta":0.891,"beta":0.65,"best":"MNL"},{"theta":0.893,"beta":1.20,"best":"MNL"},{"theta":0.895,"beta":0.31,"best":"MNL"},{"theta":0.897,"beta":1.87,"best":"MNL"},{"theta":0.899,"beta":0.69,"best":"MNL"},
      {"theta":0.233,"beta":13.36,"best":"MNW"},{"theta":0.246,"beta":12.90,"best":"MNW"},{"theta":0.256,"beta":12.62,"best":"MNW"},{"theta":0.306,"beta":12.34,"best":"MNW"},{"theta":0.214,"beta":11.65,"best":"MNW"},{"theta":0.252,"beta":11.79,"best":"MNW"},{"theta":0.276,"beta":11.57,"best":"MNW"},{"theta":0.246,"beta":11.31,"best":"MNW"},{"theta":0.206,"beta":10.72,"best":"MNW"},{"theta":0.298,"beta":11.21,"best":"MNW"},{"theta":0.312,"beta":10.85,"best":"MNW"},{"theta":0.302,"beta":10.56,"best":"MNW"},{"theta":0.338,"beta":10.28,"best":"MNW"},{"theta":0.354,"beta":10.60,"best":"MNW"},{"theta":0.362,"beta":10.52,"best":"MNW"},{"theta":0.342,"beta":9.90,"best":"MNW"},{"theta":0.391,"beta":10.85,"best":"MNW"},{"theta":0.396,"beta":11.55,"best":"MNW"},{"theta":0.404,"beta":11.46,"best":"MNW"},{"theta":0.412,"beta":10.44,"best":"MNW"},{"theta":0.407,"beta":10.19,"best":"MNW"},{"theta":0.436,"beta":10.23,"best":"MNW"},{"theta":0.383,"beta":9.95,"best":"MNW"},{"theta":0.388,"beta":9.90,"best":"MNW"},{"theta":0.372,"beta":9.57,"best":"MNW"},{"theta":0.354,"beta":9.18,"best":"MNW"},{"theta":0.330,"beta":9.21,"best":"MNW"},{"theta":0.334,"beta":8.91,"best":"MNW"},{"theta":0.372,"beta":9.13,"best":"MNW"},{"theta":0.404,"beta":9.67,"best":"MNW"},{"theta":0.409,"beta":9.73,"best":"MNW"},{"theta":0.420,"beta":9.57,"best":"MNW"},{"theta":0.424,"beta":9.29,"best":"MNW"},{"theta":0.427,"beta":9.41,"best":"MNW"},{"theta":0.436,"beta":9.50,"best":"MNW"},{"theta":0.437,"beta":9.45,"best":"MNW"},{"theta":0.457,"beta":9.41,"best":"MNW"},{"theta":0.461,"beta":9.37,"best":"MNW"},{"theta":0.468,"beta":9.24,"best":"MNW"},{"theta":0.473,"beta":9.08,"best":"MNW"},{"theta":0.453,"beta":8.64,"best":"MNW"},{"theta":0.473,"beta":8.64,"best":"MNW"},{"theta":0.485,"beta":8.72,"best":"MNW"},{"theta":0.514,"beta":8.85,"best":"MNW"},{"theta":0.391,"beta":8.42,"best":"MNW"},{"theta":0.412,"beta":8.39,"best":"MNW"},{"theta":0.416,"beta":8.22,"best":"MNW"},{"theta":0.396,"beta":7.81,"best":"MNW"},{"theta":0.424,"beta":7.70,"best":"MNW"},{"theta":0.441,"beta":7.86,"best":"MNW"},{"theta":0.402,"beta":7.49,"best":"MNW"},{"theta":0.424,"beta":7.32,"best":"MNW"},{"theta":0.465,"beta":8.31,"best":"MNW"},{"theta":0.493,"beta":8.31,"best":"MNW"},{"theta":0.498,"beta":8.19,"best":"MNW"},{"theta":0.469,"beta":7.81,"best":"MNW"},{"theta":0.489,"beta":7.90,"best":"MNW"},{"theta":0.477,"beta":8.64,"best":"MNW"},{"theta":0.437,"beta":7.73,"best":"MNW"},{"theta":0.430,"beta":7.32,"best":"MNW"},{"theta":0.398,"beta":7.52,"best":"MNW"}
    ]
  },
  "spacing": 31,
  "bounds": "flush",
  "vconcat": [
    {
      "width": 622,
      "height": 140,
      "layer": [
        {
          "data": {"name": "theta_mnl_hist"},
          "mark": {"type": "rect"},
          "encoding": {
            "x": {"field": "lo", "type": "quantitative", "scale": {"domain": [0, 1.5], "nice": false, "zero": false},
                  "axis": {"values": [0, 0.25, 0.5, 0.75, 1, 1.25, 1.5], "labels": false, "title": null}},
            "x2": {"field": "hi"},
            "y": {"field": "density", "type": "quantitative", "scale": {"domain": [0, 8.1], "nice": false}, "axis": null},
            "y2": {"datum": 0}
          }
        },
        {
          "data": {"name": "theta_mnl_kde"},
          "mark": {"type": "line", "color": "#1f77b4", "strokeWidth": 2.8, "interpolate": "monotone"},
          "encoding": {
            "x": {"field": "theta", "type": "quantitative"},
            "y": {"field": "density", "type": "quantitative"}
          }
        },
        {
          "data": {"values": [{}]},
          "mark": {"type": "text", "align": "left", "baseline": "alphabetic", "fontSize": 27, "lineHeight": 37},
          "encoding": {
            "x": {"datum": 0.0024},
            "y": {"datum": 6.21},
            "text": {"value": ["The distribution of θ (MNL)", "mean=0.914", "std=0.049"]}
          }
        }
      ]
    },
    {
      "width": 622,
      "height": 141,
      "layer": [
        {
          "data": {"name": "theta_mh_hist"},
          "mark": {"type": "rect"},
          "encoding": {
            "x": {"field": "lo", "type": "quantitative", "scale": {"domain": [0, 1.5], "nice": false, "zero": false},
                  "axis": {"values": [0, 0.25, 0.5, 0.75, 1, 1.25, 1.5], "labels": false, "title": null}},
            "x2": {"field": "hi"},
            "y": {"field": "density", "type": "quantitative", "scale": {"domain": [0, 2.59], "nice": false}, "axis": null},
            "y2": {"datum": 0}
          }
        },
        {
          "data": {"name": "theta_mh_kde"},
          "mark": {"type": "line", "color": "#1f77b4", "strokeWidth": 2.8, "interpolate": "monotone"},
          "encoding": {
            "x": {"field": "theta", "type": "quantitative"},
            "y": {"field": "density", "type": "quantitative"}
          }
        },
        {
          "data": {"values": [{}]},
          "mark": {"type": "text", "align": "left", "baseline": "alphabetic", "fontSize": 27, "lineHeight": 37},
          "encoding": {
            "x": {"datum": 0.0024},
            "y": {"datum": 2.005},
            "text": {"value": ["The distribution of θ (MH)", "mean=0.730", "std=0.169"]}
          }
        }
      ]
    },
    {
      "spacing": 30,
      "bounds": "flush",
      "hconcat": [
        {
          "width": 622,
          "height": 611,
          "layer": [
            {
              "data": {"name": "samples"},
              "transform": [{"filter": "datum.best === 'MNL'"}],
              "mark": {"type": "point", "shape": "triangle-down", "filled": true, "color": "#ff7f0e", "opacity": 0.75, "size": 90, "strokeWidth": 0},
              "encoding": {
                "x": {"field": "theta", "type": "quantitative", "scale": {"domain": [0, 1.5], "nice": false, "zero": false},
                      "axis": {"values": [0, 0.25, 0.5, 0.75, 1, 1.25, 1.5], "format": ".2f", "title": "θ", "titlePadding": 6}},
                "y": {"field": "beta", "type": "quantitative", "scale": {"domain": [-10, 20], "nice": false, "zero": false},
                      "axis": {"values": [-10, -5, 0, 5, 10, 15, 20], "title": "β", "titleAngle": 0, "titleAlign": "center", "titleBaseline": "middle", "titleX": -74, "titleY": 316}}
              }
            },
            {
              "data": {"name": "samples"},
              "transform": [{"filter": "datum.best === 'MNW'"}],
              "mark": {"type": "point", "shape": "circle", "filled": true, "color": "#1f77b4", "opacity": 0.65, "size": 62, "strokeWidth": 0},
              "encoding": {
                "x": {"field": "theta", "type": "quantitative"},
                "y": {"field": "beta", "type": "quantitative"}
              }
            },
            {
              "data": {"values": [{}]},
              "mark": {"type": "rect", "fill": "white", "stroke": "#cccccc", "strokeWidth": 1.3, "cornerRadius": 5},
              "encoding": {"x": {"datum": 0.651}, "x2": {"datum": 1.4654}, "y": {"datum": 19.22}, "y2": {"datum": 14.05}}
            },
            {
              "data": {"values": [{}]},
              "mark": {"type": "point", "shape": "triangle-down", "filled": true, "color": "#ff7f0e", "opacity": 0.7, "size": 81, "strokeWidth": 0},
              "encoding": {"x": {"datum": 0.7458}, "y": {"datum": 17.82}}
            },
            {
              "data": {"values": [{}]},
              "mark": {"type": "point", "shape": "circle", "filled": true, "color": "#1f77b4", "opacity": 0.65, "size": 60, "strokeWidth": 0},
              "encoding": {"x": {"datum": 0.7458}, "y": {"datum": 15.41}}
            },
            {
              "data": {"values": [{}]},
              "mark": {"type": "text", "align": "left", "baseline": "alphabetic", "fontSize": 24, "lineHeight": 49},
              "encoding": {"x": {"datum": 0.8746}, "y": {"datum": 17.5}, "text": {"value": ["logℒ", "logℒ"]}}
            },
            {
              "data": {"values": [{}]},
              "mark": {"type": "text", "align": "left", "baseline": "alphabetic", "fontSize": 19, "lineHeight": 49},
              "encoding": {"x": {"datum": 0.9863}, "y": {"datum": 17.26}, "text": {"value": ["MNL", "MNL"]}}
            },
            {
              "data": {"values": [{}]},
              "mark": {"type": "text", "align": "left", "baseline": "alphabetic", "fontSize": 24, "lineHeight": 49},
              "encoding": {"x": {"datum": 1.1237}, "y": {"datum": 17.5}, "text": {"value": [">", "≤"]}}
            },
            {
              "data": {"values": [{}]},
              "mark": {"type": "text", "align": "left", "baseline": "alphabetic", "fontSize": 24, "lineHeight": 49},
              "encoding": {"x": {"datum": 1.16}, "y": {"datum": 17.5}, "text": {"value": ["logℒ", "logℒ"]}}
            },
            {
              "data": {"values": [{}]},
              "mark": {"type": "text", "align": "left", "baseline": "alphabetic", "fontSize": 19, "lineHeight": 49},
              "encoding": {"x": {"datum": 1.2732}, "y": {"datum": 17.26}, "text": {"value": ["MNW", "MNW"]}}
            }
          ]
        },
        {
          "width": 142,
          "height": 611,
          "layer": [
            {
              "data": {"name": "beta_mh_hist"},
              "mark": {"type": "rect"},
              "encoding": {
                "y": {"field": "lo", "type": "quantitative", "scale": {"domain": [-10, 20], "nice": false, "zero": false},
                      "axis": {"values": [-10, -5, 0, 5, 10, 15, 20], "labels": false, "title": null}},
                "y2": {"field": "hi"},
                "x": {"field": "density", "type": "quantitative", "scale": {"domain": [0, 0.1455], "nice": false}, "axis": null},
                "x2": {"datum": 0}
              }
            },
            {
              "data": {"name": "beta_mh_kde"},
              "mark": {"type": "line", "color": "#1f77b4", "strokeWidth": 2.8, "interpolate": "catmull-rom"},
              "encoding": {
                "x": {"field": "density", "type": "quantitative"},
                "y": {"field": "beta", "type": "quantitative"},
                "order": {"field": "beta", "type": "quantitative"}
              }
            },
            {
              "data": {"values": [{}]},
              "mark": {"type": "text", "align": "left", "baseline": "alphabetic", "angle": 90, "fontSize": 27, "lineHeight": 37},
              "encoding": {
                "x": {"datum": 0.1199},
                "y": {"datum": 20.6},
                "text": {"value": ["The distribution of β (MH)", "mean=3.333", "std=2.944"]}
              }
            }
          ]
        },
        {
          "width": 142,
          "height": 611,
          "layer": [
            {
              "data": {"name": "beta_mnw_hist"},
              "mark": {"type": "rect"},
              "encoding": {
                "y": {"field": "lo", "type": "quantitative", "scale": {"domain": [-10, 20], "nice": false, "zero": false},
                      "axis": {"values": [-10, -5, 0, 5, 10, 15, 20], "labels": false, "title": null}},
                "y2": {"field": "hi"},
                "x": {"field": "density", "type": "quantitative", "scale": {"domain": [0, 0.4356], "nice": false}, "axis": null},
                "x2": {"datum": 0}
              }
            },
            {
              "data": {"name": "beta_mnw_kde"},
              "mark": {"type": "line", "color": "#1f77b4", "strokeWidth": 2.8, "interpolate": "catmull-rom"},
              "encoding": {
                "x": {"field": "density", "type": "quantitative"},
                "y": {"field": "beta", "type": "quantitative"},
                "order": {"field": "beta", "type": "quantitative"}
              }
            },
            {
              "data": {"values": [{}]},
              "mark": {"type": "text", "align": "left", "baseline": "alphabetic", "angle": 90, "fontSize": 27, "lineHeight": 37},
              "encoding": {
                "x": {"datum": 0.362},
                "y": {"datum": 11.1},
                "text": {"value": ["The distribution of β (MNW)", "mean=16.051", "std=0.935"]}
              }
            }
          ]
        }
      ]
    }
  ]
}
